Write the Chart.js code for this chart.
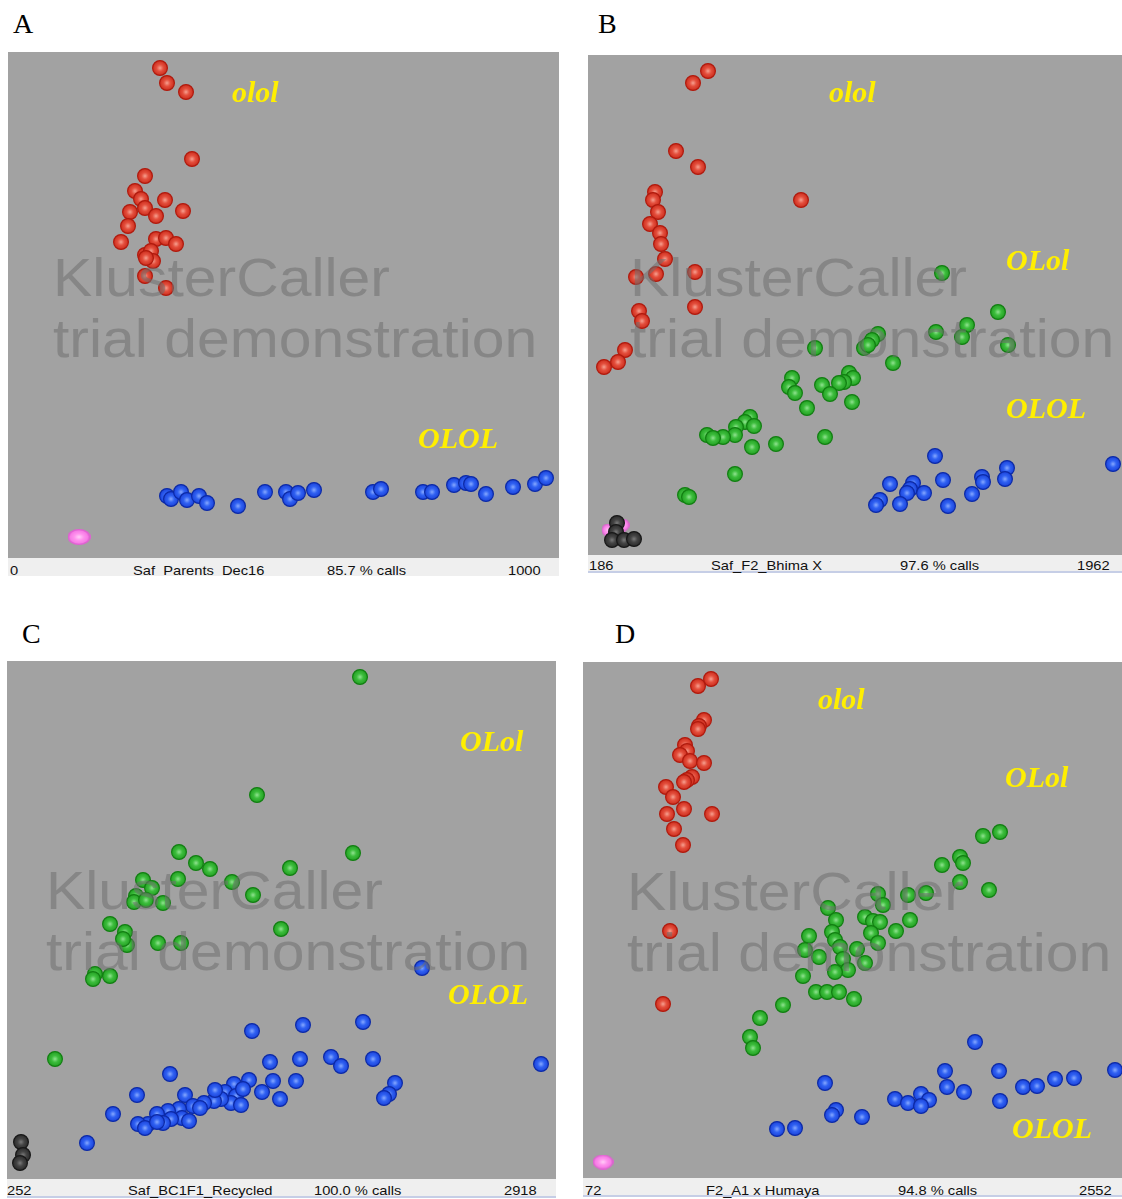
<!DOCTYPE html>
<html lang="en">
<head>
    <meta charset="UTF-8">
    <title>KlusterCaller genotype plots</title>
    <style>
        body { margin: 0; background: #fff; }
        #fig { position: relative; width: 1122px; height: 1199px; overflow: hidden; background: #fff; }
        .plot { position: absolute; background: #a2a2a2; }
        .bar { position: absolute; background: #efefef; }
        .bar.line { border-bottom: 2px solid #c6cee6; }
        .btxt { position: absolute; font: 13px Arial, "Liberation Sans", sans-serif; line-height: 13px; color: #111;
                white-space: pre; transform: scaleX(1.13); transform-origin: left top; }
        .mark { position: absolute; font: 54px Arial, "Liberation Sans", sans-serif; line-height: 61px; color: rgba(112,112,112,0.55);
                white-space: pre; transform: scaleX(1.09); transform-origin: left top; pointer-events: none; }
        .geno { position: absolute; font: italic bold 30px "Liberation Serif", "Times New Roman", serif; line-height: 30px;
                color: #ffef00; white-space: pre; }
        .plabel { position: absolute; font: 28px "Liberation Serif", "Times New Roman", serif; line-height: 28px; color: #000; }
    </style>
</head>
<body>
<div id="fig"></div>

<script src="https://cdn.jsdelivr.net/npm/chart.js"></script>
<script>
    // signal values (x = allele 1, y = allele 2, plot units)
    const aRed = [[152,490],[159,475],[178,466],[184,399],[137,382],[127,367],[133,359],[157,358],[137,350],[122,346],
        [148,342],[175,347],[120,332],[113,316],[148,319],[158,320],[168,314],[137,303],[143,307],[145,297],[138,300],
        [137,282],[158,270]];
    const aBlue = [[159,62],[163,59],[173,66],[179,58],[191,62],[199,55],[230,52],[257,66],[278,66],[282,59],[290,65],
        [306,68],[365,66],[373,69],[415,66],[424,66],[446,73],[458,75],[463,74],[478,64],[505,71],[527,74],[538,80]];
    const aPink = [[71,21]];

    const bRed = [[120,484],[105,472],[88,404],[110,388],[213,355],[67,363],[65,355],[70,343],[62,331],[72,322],[73,311],
        [77,296],[107,283],[68,281],[48,278],[51,244],[54,234],[107,248],[37,205],[30,193],[16,188]];
    const bGreen = [[354,282],[410,243],[379,230],[374,218],[348,223],[420,210],[290,221],[284,215],[276,207],[280,210],
        [227,207],[305,192],[261,182],[265,177],[256,173],[251,172],[234,170],[242,161],[204,177],[201,168],[207,162],
        [219,147],[264,153],[162,138],[157,133],[148,128],[166,129],[147,120],[135,118],[119,120],[125,117],[164,108],
        [188,111],[237,118],[147,81],[97,60],[101,58]];
    const bBlue = [[347,99],[419,87],[417,76],[394,78],[395,73],[384,61],[355,75],[360,49],[325,72],[322,66],[319,62],
        [336,62],[302,71],[312,51],[292,55],[288,50],[525,91]];
    const bBlack = [[29,32],[28,23],[24,15],[36,15],[46,16]];
    const bPink = [[20,25],[35,30]];

    const cGreen = [[353,502],[250,384],[172,327],[189,316],[203,310],[346,326],[283,311],[225,297],[246,284],[171,300],
        [136,299],[145,291],[129,283],[127,277],[139,279],[156,276],[274,250],[103,255],[118,247],[120,234],[116,240],
        [151,236],[174,236],[88,205],[86,200],[103,203],[48,120]];
    const cBlue = [[415,211],[245,148],[296,154],[356,157],[163,105],[263,117],[293,120],[324,122],[334,113],[366,120],
        [534,115],[266,98],[289,98],[255,87],[273,80],[388,96],[382,85],[377,81],[130,84],[242,99],[227,95],[218,87],
        [229,83],[224,76],[234,74],[214,80],[207,78],[197,76],[178,84],[186,73],[172,70],[161,68],[150,65],[175,61],
        [182,58],[164,60],[156,56],[141,55],[131,55],[138,51],[106,65],[80,36],[193,71],[208,89],[236,90],[150,57]];
    const cBlack = [[14,37],[16,24],[13,16]];

    const dRed = [[128,499],[115,492],[121,458],[116,452],[115,449],[102,433],[104,427],[97,423],[107,417],[121,415],
        [109,401],[104,398],[101,396],[83,391],[90,381],[84,364],[101,369],[129,364],[91,349],[100,333],[87,247],[80,174]];
    const dGreen = [[417,346],[400,342],[377,321],[380,315],[359,313],[377,296],[406,288],[343,285],[325,283],[295,284],
        [300,273],[245,270],[327,258],[313,247],[282,261],[290,257],[297,256],[253,258],[288,245],[295,235],[249,246],
        [252,238],[257,231],[226,242],[274,229],[222,228],[236,221],[260,219],[282,215],[265,208],[252,206],[220,202],
        [233,186],[244,186],[256,186],[271,179],[200,173],[177,160],[167,141],[170,130]];
    const dBlue = [[392,136],[362,107],[416,107],[364,91],[381,86],[440,91],[454,92],[472,99],[491,100],[532,108],
        [417,77],[312,79],[325,75],[338,84],[346,78],[338,72],[242,95],[253,68],[249,63],[279,61],[194,49],[212,50]];
    const dPink = [[20,16]];

    // status bar texts: start, run name, call rate, end
    const barTexts = {
        A: ["0", "Saf  Parents  Dec16", "85.7 % calls", "1000"],
        B: ["186", "Saf_F2_Bhima X", "97.6 % calls", "1962"],
        C: ["252", "Saf_BC1F1_Recycled", "100.0 % calls", "2918"],
        D: ["72", "F2_A1 x Humaya", "94.8 % calls", "2552"]
    };
    const genoLabels = {
        A: ["olol", "OLOL"],
        B: ["olol", "OLol", "OLOL"],
        C: ["OLol", "OLOL"],
        D: ["olol", "OLol", "OLOL"]
    };

    // shaded "ball" markers like the KlusterCaller display
    function ball(c0, c1, c2, ring, w, h) {
        const cv = document.createElement('canvas');
        cv.width = w; cv.height = h;
        const g = cv.getContext('2d');
        const r = h / 2 - 0.6;
        g.translate(w / 2, h / 2);
        g.scale(w / h, 1);
        const grad = g.createRadialGradient(0, 0, 0, 0, 0, r);
        grad.addColorStop(0, c0);
        grad.addColorStop(0.45, c1);
        grad.addColorStop(1, c2);
        g.beginPath();
        g.arc(0, 0, r, 0, 2 * Math.PI);
        g.fillStyle = grad;
        g.fill();
        g.lineWidth = 1.2;
        g.strokeStyle = ring;
        g.stroke();
        return cv;
    }
    const red = ball('#f6a090', '#e4503e', '#cc2c1c', '#b01a0e', 16, 16);
    const blue = ball('#86a8ff', '#3162f2', '#1a42da', '#0c2aa6', 16, 16);
    const green = ball('#90e290', '#3dbd3d', '#22a022', '#127f12', 16, 16);
    const black = ball('#7a7a7a', '#454545', '#2a2a2a', '#181818', 16, 16);
    const pinkBig = ball('#ffd0f8', '#ff92ee', '#f272e2', '#e060d2', 23, 16);
    const pinkMid = ball('#ffd0f8', '#ff92ee', '#f272e2', '#e060d2', 21, 15);
    const pinkSmall = ball('#ffd0f8', '#ff92ee', '#f272e2', '#e060d2', 13, 13);

    // page layout of the four panels
    const panels = [
        { key: 'A', left: 8, top: 52, w: 551, h: 506, barH: 18, line: false, base: 575,
          label: [13, 33], bx: [10, 133, 327, 508],
          mark: [53, 247], geno: [[232, 102], [418, 448]],
          sets: [[aRed, red], [aBlue, blue], [aPink, pinkBig]] },
        { key: 'B', left: 588, top: 55, w: 534, h: 500, barH: 16, line: true, base: 570,
          label: [598, 33], bx: [589, 711, 900, 1077],
          mark: [630, 247], geno: [[829, 102], [1006, 270], [1006, 418]],
          sets: [[bRed, red], [bGreen, green], [bBlue, blue], [bBlack, black], [bPink, pinkSmall]] },
        { key: 'C', left: 7, top: 661, w: 549, h: 518, barH: 17, line: true, base: 1195,
          label: [22, 643], bx: [7, 128, 314, 504],
          mark: [46, 860], geno: [[460, 751], [448, 1004]],
          sets: [[cGreen, green], [cBlue, blue], [cBlack, black]] },
        { key: 'D', left: 583, top: 662, w: 539, h: 516, barH: 17, line: true, base: 1195,
          label: [615, 643], bx: [585, 706, 898, 1079],
          mark: [627, 861], geno: [[818, 709], [1005, 787], [1012, 1138]],
          sets: [[dRed, red], [dGreen, green], [dBlue, blue], [dPink, pinkMid]] }
    ];

    const fig = document.getElementById('fig');

    function addDiv(cls, text, left, top) {
        const d = document.createElement('div');
        d.className = cls;
        d.textContent = text;
        d.style.left = left + 'px';
        d.style.top = top + 'px';
        fig.appendChild(d);
        return d;
    }

    panels.forEach(p => {
        addDiv('plabel', p.key, p.label[0], p.label[1] - 23);

        const holder = document.createElement('div');
        holder.className = 'plot';
        holder.style.left = p.left + 'px';
        holder.style.top = p.top + 'px';
        holder.style.width = p.w + 'px';
        holder.style.height = p.h + 'px';
        const canvas = document.createElement('canvas');
        canvas.width = p.w;
        canvas.height = p.h;
        canvas.style.width = p.w + 'px';
        canvas.style.height = p.h + 'px';
        holder.appendChild(canvas);
        fig.appendChild(holder);

        new Chart(canvas.getContext('2d'), {
            type: 'scatter',
            data: {
                datasets: p.sets.map(([pts, img]) => ({
                    data: pts.map(v => ({ x: v[0], y: v[1] })),
                    pointStyle: img,
                    pointRadius: 8,
                    clip: false
                }))
            },
            options: {
                responsive: false,
                maintainAspectRatio: false,
                animation: false,
                events: [],
                layout: { padding: 0, autoPadding: false },
                plugins: { legend: { display: false }, tooltip: { enabled: false } },
                scales: {
                    x: { display: false, min: 0, max: p.w },
                    y: { display: false, min: 0, max: p.h }
                }
            }
        });

        // status bar under the plot
        const bar = document.createElement('div');
        bar.className = p.line ? 'bar line' : 'bar';
        bar.style.left = p.left + 'px';
        bar.style.top = (p.top + p.h) + 'px';
        bar.style.width = p.w + 'px';
        bar.style.height = p.barH + 'px';
        fig.appendChild(bar);
        barTexts[p.key].forEach((t, i) => addDiv('btxt', t, p.bx[i], p.base - 11));

        genoLabels[p.key].forEach((t, i) => addDiv('geno', t, p.geno[i][0], p.geno[i][1] - 25));

        // trial watermark sits on top of the points
        addDiv('mark', 'KlusterCaller\ntrial demonstration', p.mark[0], p.mark[1]);
    });
</script>
</body>
</html>
